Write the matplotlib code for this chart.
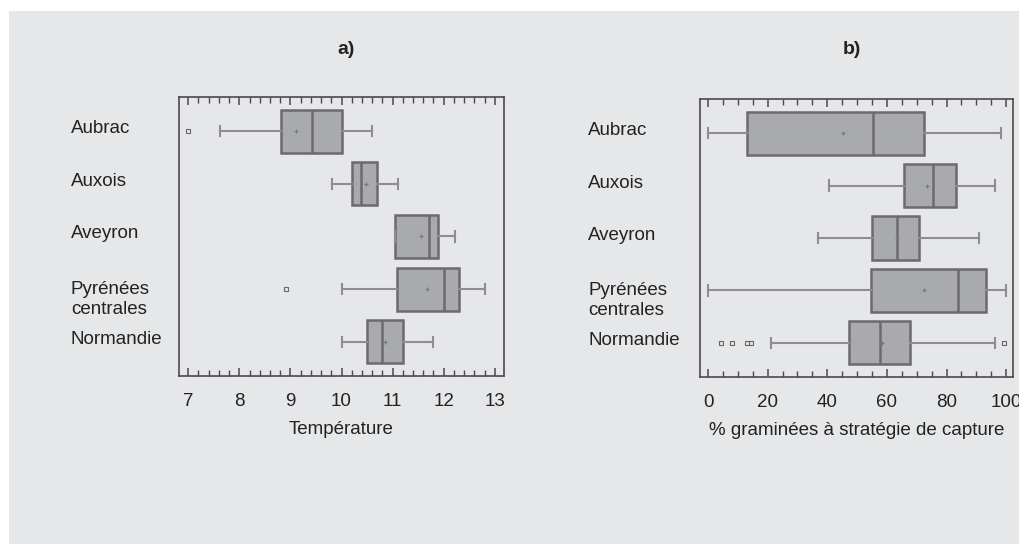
import matplotlib
matplotlib.use("Agg")
import matplotlib.pyplot as plt
from matplotlib.patches import Rectangle
from matplotlib.ticker import MultipleLocator

plt.rcParams['font.family'] = ['Liberation Sans', 'DejaVu Sans']

categories = ["Aubrac", "Auxois", "Aveyron", "Pyrénées\ncentrales", "Normandie"]

# Panel a: Température
temp_whislo = [7.62, 9.81, 11.05, 10.00, 10.00]
temp_q1     = [8.81, 10.21, 11.05, 11.09, 10.50]
temp_med    = [9.42, 10.39, 11.71, 12.00, 10.80]
temp_mean   = [9.11, 10.47, 11.56, 11.68, 10.86]
temp_q3     = [10.00, 10.70, 11.89, 12.30, 11.20]
temp_whishi = [10.59, 11.10, 12.22, 12.80, 11.80]
temp_fliers = [[7.0], [], [], [8.91], []]

# Panel b: % graminées à stratégie de capture
gram_whislo = [0.0, 40.7, 36.8, 0.0, 21.1]
gram_q1     = [13.0, 65.9, 55.1, 54.7, 47.4]
gram_med    = [55.3, 75.3, 63.3, 83.7, 57.7]
gram_mean   = [45.2, 73.6, 63.3, 72.3, 58.5]
gram_q3     = [72.5, 83.1, 70.7, 93.1, 67.7]
gram_whishi = [98.2, 96.3, 90.8, 99.8, 96.4]
gram_fliers = [[], [], [], [], [4.3, 7.9, 13.0, 14.4, 99.3]]

titles = ["a)", "b)"]
xlabels = ["Température", "% graminées à stratégie de capture"]

BG = "#e6e7e9"
BOXFILL = "#a9aaac"
BOXEDGE = "#6b6b6d"
WHISK = "#8e8e90"
SPINE = "#4a4a4c"
TXT = "#222222"

fig = plt.figure(figsize=(10.19, 5.44), dpi=100, facecolor="white")
fig.patches.append(Rectangle((9/1019, 0), 1 - 9/1019, 1 - 11/544,
                             transform=fig.transFigure, facecolor=BG,
                             edgecolor="none", zorder=-10))

def make_stats(wl, q1, med, mean, q3, wh, fl):
    out = []
    for i in range(len(wl)):
        out.append(dict(whislo=wl[i], q1=q1[i], med=med[i], mean=mean[i],
                        q3=q3[i], whishi=wh[i], fliers=fl[i], label=""))
    return out

panels = [
    dict(rect=[179/1019, (544-376)/544, 325/1019, 279/544],
         stats=make_stats(temp_whislo, temp_q1, temp_med, temp_mean, temp_q3, temp_whishi, temp_fliers),
         xlim=(6.82, 13.18), major=1, minor=0.2, xticks=[7, 8, 9, 10, 11, 12, 13],
         labelx=-108, title_x=346/1019),
    dict(rect=[700/1019, (544-377)/544, 313/1019, 278/544],
         stats=make_stats(gram_whislo, gram_q1, gram_med, gram_mean, gram_q3, gram_whishi, gram_fliers),
         xlim=(-2.7, 102.3), major=20, minor=5, xticks=[0, 20, 40, 60, 80, 100],
         labelx=-112, title_x=852/1019),
]

positions = list(range(1, len(categories) + 1))

for k, p in enumerate(panels):
    ax = fig.add_axes(p["rect"])
    ax.set_facecolor(BG)
    ax.bxp(p["stats"], positions=positions, vert=False, widths=0.82,
           capwidths=0.2, showmeans=True, patch_artist=True,
           boxprops=dict(facecolor=BOXFILL, edgecolor=BOXEDGE, linewidth=1.8),
           medianprops=dict(color=BOXEDGE, linewidth=1.8),
           whiskerprops=dict(color=WHISK, linewidth=1.5),
           capprops=dict(color=WHISK, linewidth=1.5),
           meanprops=dict(marker='+', markersize=3, markeredgecolor="#777777",
                          markeredgewidth=0.8),
           flierprops=dict(marker='s', markersize=3, markerfacecolor='none',
                           markeredgecolor="#666666", markeredgewidth=0.8))
    ax.set_xlim(*p["xlim"])
    ax.set_ylim(len(categories) + 0.65, 0.35)
    ax.set_xticks(p["xticks"])
    ax.set_xticklabels([str(t) for t in p["xticks"]])
    ax.xaxis.set_minor_locator(MultipleLocator(p["minor"]))
    ax.tick_params(axis='x', which='both', direction='in', top=True, bottom=True,
                   color=SPINE, labelsize=13.5, labelcolor=TXT, pad=12)
    ax.tick_params(axis='x', which='major', length=6, width=1.1)
    ax.tick_params(axis='x', which='minor', length=4, width=1.0)
    ax.set_yticks([])
    for s in ax.spines.values():
        s.set_color(SPINE)
        s.set_linewidth(1.2)
    ax.set_xlabel(xlabels[k], fontsize=13.5, color=TXT, labelpad=8)

    # category labels, left-aligned
    from matplotlib.transforms import offset_copy, blended_transform_factory
    base = blended_transform_factory(ax.transAxes, ax.transData)
    for pos, cat in zip(positions, categories):
        lines = cat.split("\n")
        for j, line in enumerate(lines):
            tr = offset_copy(base, fig=fig, x=p["labelx"], y=-(2 + 20 * j) if len(lines) > 1 else -2,
                             units='dots')
            ytxt = pos
            if len(lines) > 1:
                tr = offset_copy(base, fig=fig, x=p["labelx"], y=-(5 + 20 * j), units='dots')
            ax.text(0, ytxt, line, transform=tr, ha='left', va='baseline',
                    fontsize=13.5, color=TXT)

    fig.text(p["title_x"], 1 - 50/544, titles[k], ha='center', va='center',
             fontsize=14, fontweight='bold', color=TXT,
             family=['Liberation Sans Narrow', 'Liberation Sans', 'DejaVu Sans'])

fig.savefig("out.png", dpi=100, facecolor="white")
